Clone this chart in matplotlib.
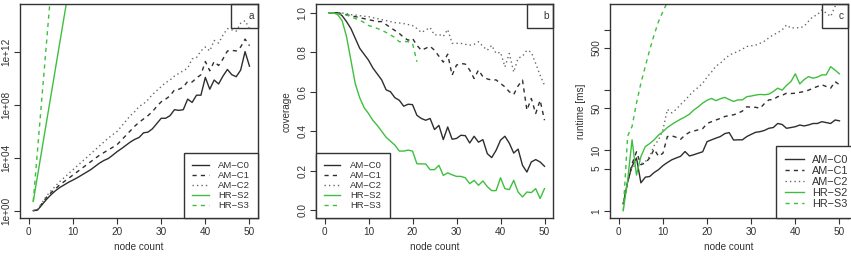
import numpy as np
import matplotlib
matplotlib.use('Agg')
import matplotlib.pyplot as plt
from matplotlib.patches import Rectangle

plt.rcParams['font.family'] = ['Liberation Sans', 'DejaVu Sans']

# node counts
nodes = np.arange(1, 51)

# panel a: log10 of search space size
a_c0 = [0, 0.05, 0.45, 0.85, 1.2, 1.5, 1.75, 1.95, 2.15, 2.32,
        2.5, 2.7, 2.9, 3.1, 3.35, 3.6, 3.8, 3.95, 4.2, 4.47,
        4.7, 4.95, 5.2, 5.4, 5.55, 5.9, 5.95, 6.2, 6.6, 7.0,
        7.0, 7.2, 7.65, 7.6, 7.65, 8.45, 8.2, 8.75, 8.75, 10.1,
        9.2, 9.9, 9.6, 10.2, 10.7, 10.3, 10.15, 10.65, 12.05, 10.95]
a_c1 = [0, 0.05, 0.55, 1.0, 1.35, 1.65, 1.95, 2.2, 2.45, 2.7,
        2.95, 3.2, 3.45, 3.7, 3.95, 4.2, 4.4, 4.6, 4.8, 5.0,
        5.35, 5.7, 6.05, 6.4, 6.7, 6.95, 7.2, 7.5, 7.9, 8.25,
        8.45, 8.7, 9.15, 9.2, 9.35, 9.8, 9.75, 10.05, 10.3, 11.3,
        10.6, 11.3, 11.0, 11.5, 12.1, 12.15, 12.1, 12.4, 13.0, 12.5]
a_c2 = [0, 0.1, 0.6, 1.1, 1.5, 1.85, 2.2, 2.5, 2.8, 3.1,
        3.4, 3.7, 4.0, 4.3, 4.6, 4.9, 5.2, 5.5, 5.75, 6.0,
        6.4, 6.8, 7.2, 7.5, 7.9, 8.1, 8.4, 8.8, 9.1, 9.4,
        9.7, 9.9, 10.2, 10.4, 10.6, 10.8, 11.5, 11.6, 12.1, 12.4,
        12.1, 12.9, 12.7, 13.3, 13.8, 13.7, 13.6, 14.2, 14.4, 13.8]
a_s2 = [0.7, 2.7, 4.7, 6.7, 8.7, 10.7, 12.7, 14.7, 16.7]
a_s3 = [0.7, 4.7, 8.7, 12.7, 16.7]

# panel b: coverage
b_c0 = [1.0, 1.0, 1.0, 0.985, 0.955, 0.92, 0.87, 0.82, 0.79, 0.76,
        0.72, 0.69, 0.66, 0.61, 0.6, 0.57, 0.557, 0.527, 0.537, 0.535,
        0.481, 0.465, 0.456, 0.465, 0.409, 0.43, 0.358, 0.422, 0.36, 0.364,
        0.38, 0.378, 0.341, 0.375, 0.345, 0.358, 0.287, 0.267, 0.304, 0.355,
        0.375, 0.34, 0.29, 0.31, 0.228, 0.194, 0.245, 0.257, 0.245, 0.223]
b_c1 = [1.0, 1.0, 1.0, 0.995, 0.99, 0.985, 0.98, 0.975, 0.97, 0.965,
        0.96, 0.955, 0.955, 0.94, 0.925, 0.91, 0.895, 0.875, 0.861, 0.87,
        0.835, 0.81, 0.82, 0.83, 0.81, 0.78, 0.75, 0.79, 0.684, 0.735,
        0.743, 0.74, 0.71, 0.667, 0.71, 0.676, 0.665, 0.659, 0.66, 0.642,
        0.625, 0.6, 0.586, 0.63, 0.659, 0.507, 0.566, 0.49, 0.557, 0.456]
b_c2 = [1.0, 1.0, 1.0, 0.998, 0.995, 0.99, 0.988, 0.985, 0.982, 0.98,
        0.975, 0.97, 0.965, 0.96, 0.955, 0.95, 0.948, 0.945, 0.94, 0.935,
        0.92, 0.9, 0.912, 0.925, 0.887, 0.89, 0.88, 0.915, 0.845, 0.845,
        0.845, 0.84, 0.836, 0.84, 0.853, 0.83, 0.81, 0.835, 0.794, 0.8,
        0.726, 0.794, 0.7, 0.77, 0.78, 0.81, 0.8, 0.743, 0.684, 0.633]
b_s2 = [1.0, 1.0, 0.99, 0.96, 0.88, 0.76, 0.64, 0.57, 0.52, 0.49,
        0.455, 0.43, 0.4, 0.37, 0.35, 0.33, 0.3, 0.3, 0.305, 0.3,
        0.236, 0.235, 0.235, 0.206, 0.206, 0.228, 0.177, 0.19, 0.18, 0.172,
        0.172, 0.165, 0.135, 0.152, 0.127, 0.149, 0.12, 0.1, 0.1, 0.165,
        0.11, 0.105, 0.152, 0.093, 0.068, 0.093, 0.09, 0.11, 0.06, 0.11]
b_s3 = [1.0, 1.0, 0.995, 0.99, 0.988, 0.98, 0.97, 0.963, 0.95, 0.935,
        0.929, 0.92, 0.912, 0.9, 0.887, 0.875, 0.853, 0.855, 0.853, 0.845,
        0.752]

# panel c: runtime [ms]
c_c0 = [1.3, 3.0, 5.5, 7.5, 2.9, 3.6, 3.7, 4.3, 4.8, 5.6,
        6.3, 7.0, 7.5, 8.0, 9.6, 8.1, 8.5, 9.0, 9.5, 14.0,
        15.0, 16.0, 17.0, 19.0, 19.8, 14.9, 15.0, 15.0, 17.0, 18.5,
        20.0, 20.5, 21.5, 23.3, 24.0, 28.0, 27.0, 23.3, 24.0, 24.8,
        26.4, 25.5, 26.5, 28.0, 28.0, 30.0, 29.0, 28.0, 32.0, 31.0]
c_c1 = [1.3, 3.0, 6.0, 9.5, 5.8, 6.2, 7.5, 10.5, 8.0, 9.0,
        17.0, 17.5, 16.5, 15.3, 18.0, 20.0, 21.0, 22.0, 23.0, 28.0,
        30.0, 32.0, 34.0, 36.5, 38.0, 39.0, 41.5, 45.0, 53.0, 52.0,
        52.0, 50.0, 60.0, 69.0, 70.0, 78.0, 82.0, 89.0, 88.0, 89.0,
        92.0, 95.0, 100.0, 108.0, 115.0, 123.0, 115.0, 108.0, 139.0, 123.0]
c_c2 = [1.3, 3.0, 5.5, 5.5, 6.0, 6.5, 8.0, 12.0, 15.0, 22.0,
        48.0, 42.0, 48.0, 58.0, 68.0, 82.0, 97.0, 112.0, 130.0, 165.0,
        200.0, 250.0, 280.0, 330.0, 380.0, 410.0, 440.0, 480.0, 530.0, 545.0,
        560.0, 600.0, 650.0, 740.0, 830.0, 900.0, 1000.0, 1210.0, 1070.0, 1090.0,
        1080.0, 1150.0, 1400.0, 1670.0, 1780.0, 2150.0, 1900.0, 1670.0, 2450.0, 3500.0]
c_s2 = [1.0, 3.2, 15.0, 3.9, 7.9, 11.6, 13.0, 15.0, 18.0, 20.5,
        24.0, 27.0, 30.0, 33.0, 36.0, 40.0, 47.0, 53.0, 61.0, 68.0,
        73.0, 67.0, 72.0, 76.0, 70.0, 65.0, 69.0, 69.0, 78.0, 80.0,
        83.0, 85.0, 84.0, 86.0, 95.0, 108.0, 100.0, 120.0, 139.0, 187.0,
        127.0, 150.0, 168.0, 158.0, 165.0, 179.0, 180.0, 246.0, 215.0, 187.0]
c_s3 = [1.0, 17.4, 25.0, 61.0, 130.0, 248.0, 467.0, 830.0, 1380.0, 2030.0,
        2870.0]

labels = ['AM\u2212C0', 'AM\u2212C1', 'AM\u2212C2', 'HR\u2212S2', 'HR\u2212S3']

GRAY = '#2e2e2e'
LGRAY = '#6a6a6a'
GREEN = '#3fbf3f'
styles = [dict(color=GRAY, ls='-'),
          dict(color=GRAY, ls=(0, (3, 3))),
          dict(color=LGRAY, ls=(0, (1, 2.2))),
          dict(color=GREEN, ls='-'),
          dict(color=GREEN, ls=(0, (3, 3)))]

W, H = 851, 258
fig = plt.figure(figsize=(W / 100, H / 100), dpi=100)


def add_axes(x0, x1, y0=4, y1=218.3):
    return fig.add_axes([x0 / W, 1 - y1 / H, (x1 - x0) / W, (y1 - y0) / H])


ax_a = add_axes(20, 258.3)
ax_b = add_axes(315.7, 553.3)
ax_c = add_axes(610, 848.3)

series_a = [a_c0, a_c1, a_c2, a_s2, a_s3]
series_b = [b_c0, b_c1, b_c2, b_s2, b_s3]
series_c = [c_c0, c_c1, c_c2, c_s2, c_s3]

for ys, st, lab in zip(series_a, styles, labels):
    ax_a.plot(nodes[:len(ys)], 10.0 ** np.array(ys), lw=1.0, label=lab, **st)
for ys, st, lab in zip(series_b, styles, labels):
    ax_b.plot(nodes[:len(ys)], ys, lw=1.0, label=lab, **st)
for ys, st, lab in zip(series_c, styles, labels):
    ax_c.plot(nodes[:len(ys)], ys, lw=1.0, label=lab, **st)

# axes styling (R base-graphics look)
for ax in (ax_a, ax_b, ax_c):
    ax.set_xlim(-2, 52)
    ax.set_xticks([0, 10, 20, 30, 40, 50])
    ax.set_xlabel('node count', fontsize=7.2, color='#333333', labelpad=4)
    for sp in ax.spines.values():
        sp.set_color('#333333')
        sp.set_linewidth(1.0)
    ax.tick_params(direction='out', length=4, width=0.8, color='#333333',
                   labelsize=7.2, labelcolor='#333333', pad=2)

ax_a.set_yscale('log')
ax_a.set_ylim(10 ** -0.58, 10 ** 15.66)
ax_a.set_yticks([1e0, 1e4, 1e8, 1e12])
ax_a.set_yticklabels(['1e+00', '1e+04', '1e+08', '1e+12'])
ax_a.yaxis.set_minor_locator(matplotlib.ticker.NullLocator())

ax_b.set_ylim(-0.04, 1.044)
ax_b.set_yticks([0.0, 0.2, 0.4, 0.6, 0.8, 1.0])
ax_b.set_yticklabels(['0.0', '0.2', '0.4', '0.6', '0.8', '1.0'])
ax_b.set_ylabel('coverage', fontsize=7.2, color='#333333', labelpad=4)

ax_c.set_yscale('log')
ax_c.set_ylim(10 ** -0.126, 10 ** 3.43)
ax_c.set_yticks([1, 5, 10, 50, 100, 500, 1000])
ax_c.set_yticklabels(['1', '5', '10', '50', '', '500', ''])
ax_c.yaxis.set_minor_locator(matplotlib.ticker.NullLocator())
ax_c.set_ylabel('runtime [ms]', fontsize=7.2, color='#333333', labelpad=4)

for ax in (ax_a, ax_b, ax_c):
    for t in ax.get_yticklabels():
        t.set_rotation(90)
        t.set_va('center')

# panel letters in little boxes
for ax, letter, bw in ((ax_a, 'a', 27.6), (ax_b, 'b', 26.6), (ax_c, 'c', 26.6)):
    w = bw / 238.0
    h = 23.7 / 214.3
    ax.add_patch(Rectangle((1 - w, 1 - h), w, h, transform=ax.transAxes,
                           fill=False, edgecolor='#333333', lw=1.0, clip_on=False))
    ax.text(0.97, 1 - h / 2, letter, transform=ax.transAxes, ha='center',
            va='center', fontsize=7.2, color='#333333')

leg_kw = dict(frameon=True, fancybox=False, borderaxespad=0,
              labelspacing=0.1)
legs = [ax_a.legend(loc='lower right', bbox_to_anchor=(1, 0), fontsize=6.8,
                    handlelength=1.76, handletextpad=1.0, borderpad=0.85, **leg_kw),
        ax_b.legend(loc='lower left', bbox_to_anchor=(0, 0), fontsize=6.8,
                    handlelength=1.76, handletextpad=1.0, borderpad=0.85, **leg_kw),
        ax_c.legend(loc='lower left', bbox_to_anchor=(0.695, 0), fontsize=7.8,
                    handlelength=1.8, handletextpad=0.75, borderpad=0.85, **leg_kw)]
for lg in legs:
    fr = lg.get_frame()
    fr.set_edgecolor('#333333')
    fr.set_linewidth(1.0)
    fr.set_facecolor('white')
    fr.set_alpha(1)
    for t in lg.get_texts():
        t.set_color('#333333')

fig.savefig('out.png', dpi=100)
